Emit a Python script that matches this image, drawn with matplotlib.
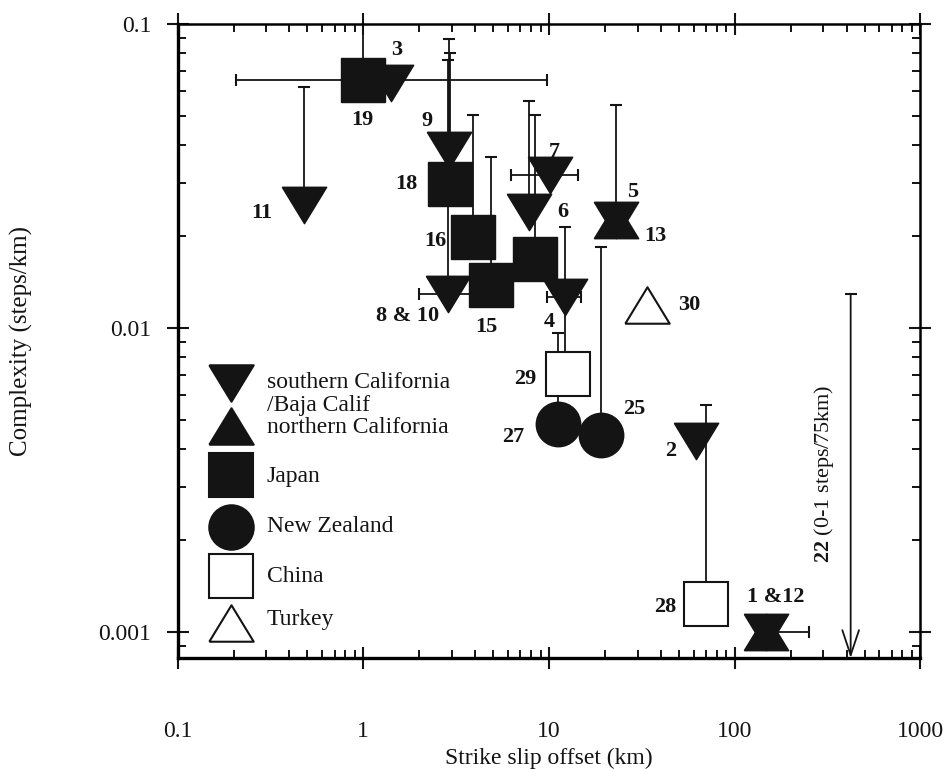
import numpy as np
import matplotlib
matplotlib.use('Agg')
from matplotlib import pyplot as plt

plt.rcParams['font.family'] = ['Liberation Serif', 'DejaVu Serif']
plt.rcParams['mathtext.fontset'] = 'custom'
plt.rcParams['mathtext.rm'] = 'Liberation Serif'
plt.rcParams['mathtext.bf'] = 'Liberation Serif:bold'

N = None

# southern California / Baja California (filled, pointing down)
socal_tag = ['1 &12', '2', '3', '4', '5', '6', '7', '8 & 10', '9', '11']
socal_x = [147, 62, 1.41, 12.2, 22.9, 7.8, 10.1, 2.87, 2.9, 0.48]
socal_y = [0.001, 0.00425, 0.064, 0.0126, 0.0227, 0.0241, 0.0318, 0.0129, 0.0385, 0.0254]
socal_xlo = [N, N, N, 9.75, N, N, 6.25, 2.0, N, N]
socal_xhi = [250, N, N, 14.9, N, N, 14.3, 4.0, N, N]
socal_ylo = [N, N, N, 0.0078, N, N, N, N, N, N]
socal_yhi = [N, N, N, 0.0215, 0.0542, 0.0558, N, 0.076, 0.089, 0.0621]

# northern California (filled, pointing up)
norcal_tag = ['', '13']
norcal_x = [147, 22.9]
norcal_y = [0.001, 0.0227]

# Japan (filled squares)
japan_tag = ['15', '16', '', '18', '19']
japan_x = [4.88, 3.9, 8.4, 2.94, 0.99]
japan_y = [0.0138, 0.0199, 0.0169, 0.0298, 0.0654]
japan_xlo = [N, N, N, N, 0.205]
japan_xhi = [N, N, N, N, 9.76]
japan_yhi = [0.0365, 0.0502, 0.0502, 0.080, 0.12]

# New Zealand (filled circles)
nz_tag = ['25', '27']
nz_x = [19.1, 11.2]
nz_y = [0.00445, 0.00483]
nz_yhi = [0.0185, 0.00963]

# China (open squares)
china_tag = ['28', '29']
china_x = [69.8, 12.6]
china_y = [0.00124, 0.00706]
china_yhi = [0.00558, N]

# Turkey (open triangle)
turkey_tag = ['30']
turkey_x = [33.6]
turkey_y = [0.0119]

# fault 22: upper bound only (0-1 steps/75km)
f22_x = 421
f22_y = 0.0129

xticks = [0.1, 1, 10, 100, 1000]
xtick_labels = ['0.1', '1', '10', '100', '1000']
yticks = [0.001, 0.01, 0.1]
ytick_labels = ['0.001', '0.01', '0.1']

# pixel offsets of the number tags from their symbol
tag_offsets = {
    '1 &12': (10, 35), '2': (-25, -10), '3': (6, 33), '4': (-16, -25), '5': (17, 28),
    '6': (34, 0), '7': (4, 23), '8 & 10': (-41, -22), '9': (-22, 29), '11': (-42, -8),
    '13': (40, -16), '15': (-5, -42), '16': (-38, -4), '18': (-44, 0), '19': (0, -40),
    '25': (33, 26), '27': (-45, -13), '28': (-40, -3), '29': (-42, -5), '30': (42, 0),
}

INK = '#141414'
MS = 32
tri_down = [(-1, 0.82), (1, 0.82), (0, -0.82), (-1, 0.82)]
tri_up = [(-1, -0.82), (1, -0.82), (0, 0.82), (-1, -0.82)]

fig = plt.figure(figsize=(9.45, 7.69), dpi=100)
ax = fig.add_axes([0.188, 0.1443, 0.786, 0.8245])
ax.set_xscale('log')
ax.set_yscale('log')
ax.set_xlim(0.1, 1000)
ax.set_ylim(0.000821, 0.1)


def errors(xs, ys, xlo=None, xhi=None, ylo=None, yhi=None):
    n = len(xs)
    xlo = xlo or [N] * n
    xhi = xhi or [N] * n
    ylo = ylo or [N] * n
    yhi = yhi or [N] * n
    for x, y, a, b, c, d in zip(xs, ys, xlo, xhi, ylo, yhi):
        xerr = yerr = None
        if a is not None or b is not None:
            xerr = [[x - a if a else 0], [b - x if b else 0]]
        if c is not None or d is not None:
            yerr = [[y - c if c else 0], [d - y if d else 0]]
        if xerr is None and yerr is None:
            continue
        ax.errorbar([x], [y], xerr=xerr, yerr=yerr, fmt='none', ecolor=INK,
                    elinewidth=1.3, capsize=4, capthick=1.5, zorder=2)


def tags(xs, ys, names):
    for x, y, t in zip(xs, ys, names):
        if not t:
            continue
        dx, dy = tag_offsets[t]
        ax.annotate(t, (x, y), xytext=(dx, dy), textcoords='offset pixels',
                    ha='center', va='center', fontsize=16, fontweight='bold', color=INK)


errors(socal_x, socal_y, socal_xlo, socal_xhi, socal_ylo, socal_yhi)
errors(japan_x, japan_y, japan_xlo, japan_xhi, None, japan_yhi)
errors(nz_x, nz_y, yhi=nz_yhi)
errors(china_x, china_y, yhi=china_yhi)

ax.plot(socal_x, socal_y, ls='none', marker=tri_down, ms=MS, color=INK, zorder=3)
ax.plot(norcal_x, norcal_y, ls='none', marker=tri_up, ms=MS, color=INK, zorder=3)
ax.plot(japan_x, japan_y, ls='none', marker='s', ms=MS, color=INK, zorder=4)
ax.plot(nz_x, nz_y, ls='none', marker='o', ms=MS, color=INK, zorder=3)
ax.plot(china_x, china_y, ls='none', marker='s', ms=MS, mfc='white', mec=INK, mew=1.5, zorder=3)
ax.plot(turkey_x, turkey_y, ls='none', marker=tri_up, ms=MS, mfc='white', mec=INK, mew=1.5, zorder=3)

tags(socal_x, socal_y, socal_tag)
tags(norcal_x, norcal_y, norcal_tag)
tags(japan_x, japan_y, japan_tag)
tags(nz_x, nz_y, nz_tag)
tags(china_x, china_y, china_tag)
tags(turkey_x, turkey_y, turkey_tag)

# fault 22 arrow
ymin = ax.get_ylim()[0]
ax.annotate('', xy=(f22_x, ymin), xytext=(f22_x, f22_y),
            arrowprops=dict(arrowstyle='->, head_length=0.9, head_width=0.3', lw=1.3,
                            color=INK, shrinkA=0, shrinkB=0, mutation_scale=20))
ax.plot([f22_x], [f22_y], marker='_', ms=9, mew=1.5, color=INK)
ax.annotate(r'$\mathbf{22}$ (0-1 steps/75km)', (f22_x, f22_y), xytext=(-27, -179),
            textcoords='offset pixels', rotation=90, ha='center', va='center',
            fontsize=16, color=INK)

# legend drawn by hand
lx, tx = 0.0716, 0.120
leg = [
    (tri_down, INK, 0.434),
    (tri_up, INK, 0.366),
    ('s', INK, 0.289),
    ('o', INK, 0.207),
    ('s', 'white', 0.129),
    (tri_up, 'white', 0.055),
]
for m, fc, ly in leg:
    ax.plot([lx], [ly], transform=ax.transAxes, marker=m, ms=MS, mfc=fc, mec=INK,
            mew=1.5, ls='none', clip_on=False)
leg_text = [
    ('southern California', 0.434),
    ('/Baja Calif', 0.399),
    ('northern California', 0.364),
    ('Japan', 0.286),
    ('New Zealand', 0.207),
    ('China', 0.129),
    ('Turkey', 0.060),
]
for s, ly in leg_text:
    ax.text(tx, ly, s, transform=ax.transAxes, ha='left', va='center', fontsize=17, color=INK)

ax.set_xticks(xticks)
ax.set_xticklabels(xtick_labels)
ax.set_yticks(yticks)
ax.set_yticklabels(ytick_labels)
ax.tick_params(which='major', direction='inout', length=16, width=1.5, top=True, right=True,
               labelsize=17, colors=INK)
ax.tick_params(axis='x', which='major', pad=37)
ax.tick_params(axis='y', which='major', pad=11)
ax.tick_params(which='minor', direction='in', length=6, width=1.3, top=True, right=True)
for side in ['left', 'bottom']:
    ax.spines[side].set_linewidth(2.4)
for side in ['top', 'right']:
    ax.spines[side].set_linewidth(1.8)

ax.set_xlabel('Strike slip offset (km)', fontsize=17, color=INK, va='bottom')
ax.set_ylabel('Complexity (steps/km)', fontsize=18, color=INK)
ax.xaxis.set_label_coords(0.5, -0.1745)
ax.yaxis.set_label_coords(-0.195, 0.5)

fig.savefig('out.png', dpi=100)
